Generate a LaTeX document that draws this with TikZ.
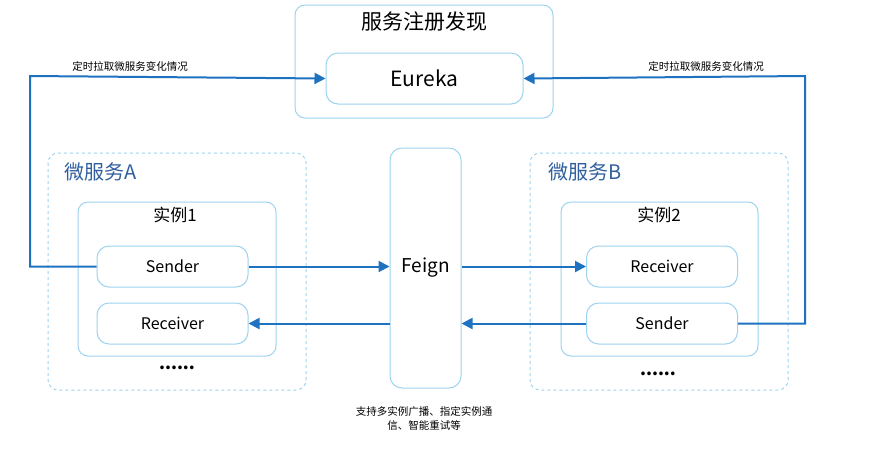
\documentclass[tikz,border=0pt]{standalone}
\usepackage{fontspec}
\setmainfont{Noto Sans CJK SC}
\usetikzlibrary{arrows.meta}
\usetikzlibrary{positioning}
\definecolor{boxline}{HTML}{9CD3EE}
\definecolor{flow}{HTML}{1F72C0}
\definecolor{title}{HTML}{2F5F9E}
\begin{document}
\begin{tikzpicture}[
    x=1pt, y=-1pt,
    >={Triangle[length=11pt,width=11pt]},
    box/.style={draw=boxline, rounded corners=10pt, line width=1pt},
    group/.style={box, dashed},
    item/.style={draw=boxline, rounded corners=12pt, line width=1pt, minimum width=151pt, minimum height=41pt, font=\fontsize{16}{18}\selectfont},
    flowline/.style={->, draw=flow, line width=2pt},
    note/.style={font=\fontsize{10.5}{14}\selectfont, align=center}
]
\useasboundingbox (0,0) rectangle (892,475);

% Registry
\draw[box] (295,5) rectangle (553,118);
\node[font=\fontsize{21}{23}\selectfont] at (424,22) {服务注册发现};
\node[item, minimum width=197pt, minimum height=51pt, font=\fontsize{21}{23}\selectfont] (eureka) at (424.5,78.5) {Eureka};

% Service A
\draw[group] (48,153) rectangle (306,390);
\node[text=title, font=\fontsize{20}{22}\selectfont] at (101,172) {微服务A};
\draw[box] (78,202) rectangle (276,356);
\node[font=\fontsize{17}{19}\selectfont] at (175,215) {实例1};
\node[item] (senderA) at (172.5,266.5) {Sender};
\node[item] (receiverA) at (172.5,323.5) {Receiver};
\node[font=\bfseries\fontsize{17}{19}\selectfont] at (177,368) {......};

% Feign
\node[draw=boxline, rounded corners=12pt, line width=1pt, minimum width=71pt, minimum height=240pt, font=\fontsize{19}{21}\selectfont] (feign) at (425.5,268) {Feign};
\node[note] (caption) at (424,418) {支持多实例广播、指定实例通\\信、智能重试等};

% Service B
\draw[group] (530,153) rectangle (788,390);
\node[text=title, font=\fontsize{20}{22}\selectfont] at (585,172) {微服务B};
\draw[box] (561,202) rectangle (758,356);
\node[font=\fontsize{17}{19}\selectfont] at (659,215) {实例2};
\node[item] (receiverB) at (662,266.5) {Receiver};
\node[item] (senderB) at (662,323.5) {Sender};
\node[font=\bfseries\fontsize{17}{19}\selectfont] at (658,374) {......};

% Calls
\draw[flowline] (senderA.east) -- (senderA.east -| feign.west);
\draw[flowline] (feign.east |- receiverB.west) -- (receiverB.west);
\draw[flowline] (senderB.west) -- (senderB.west -| feign.east);
\draw[flowline] (feign.west |- receiverA.east) -- (receiverA.east);

% Polling
\draw[flowline] (senderA.west) -| (30,76) -- (eureka.west);
\draw[flowline] (senderB.east) -| (805,76) -- (eureka.east);
\node[note] at (130,66) {定时拉取微服务变化情况};
\node[note] at (706,66) {定时拉取微服务变化情况};
\end{tikzpicture}
\end{document}
